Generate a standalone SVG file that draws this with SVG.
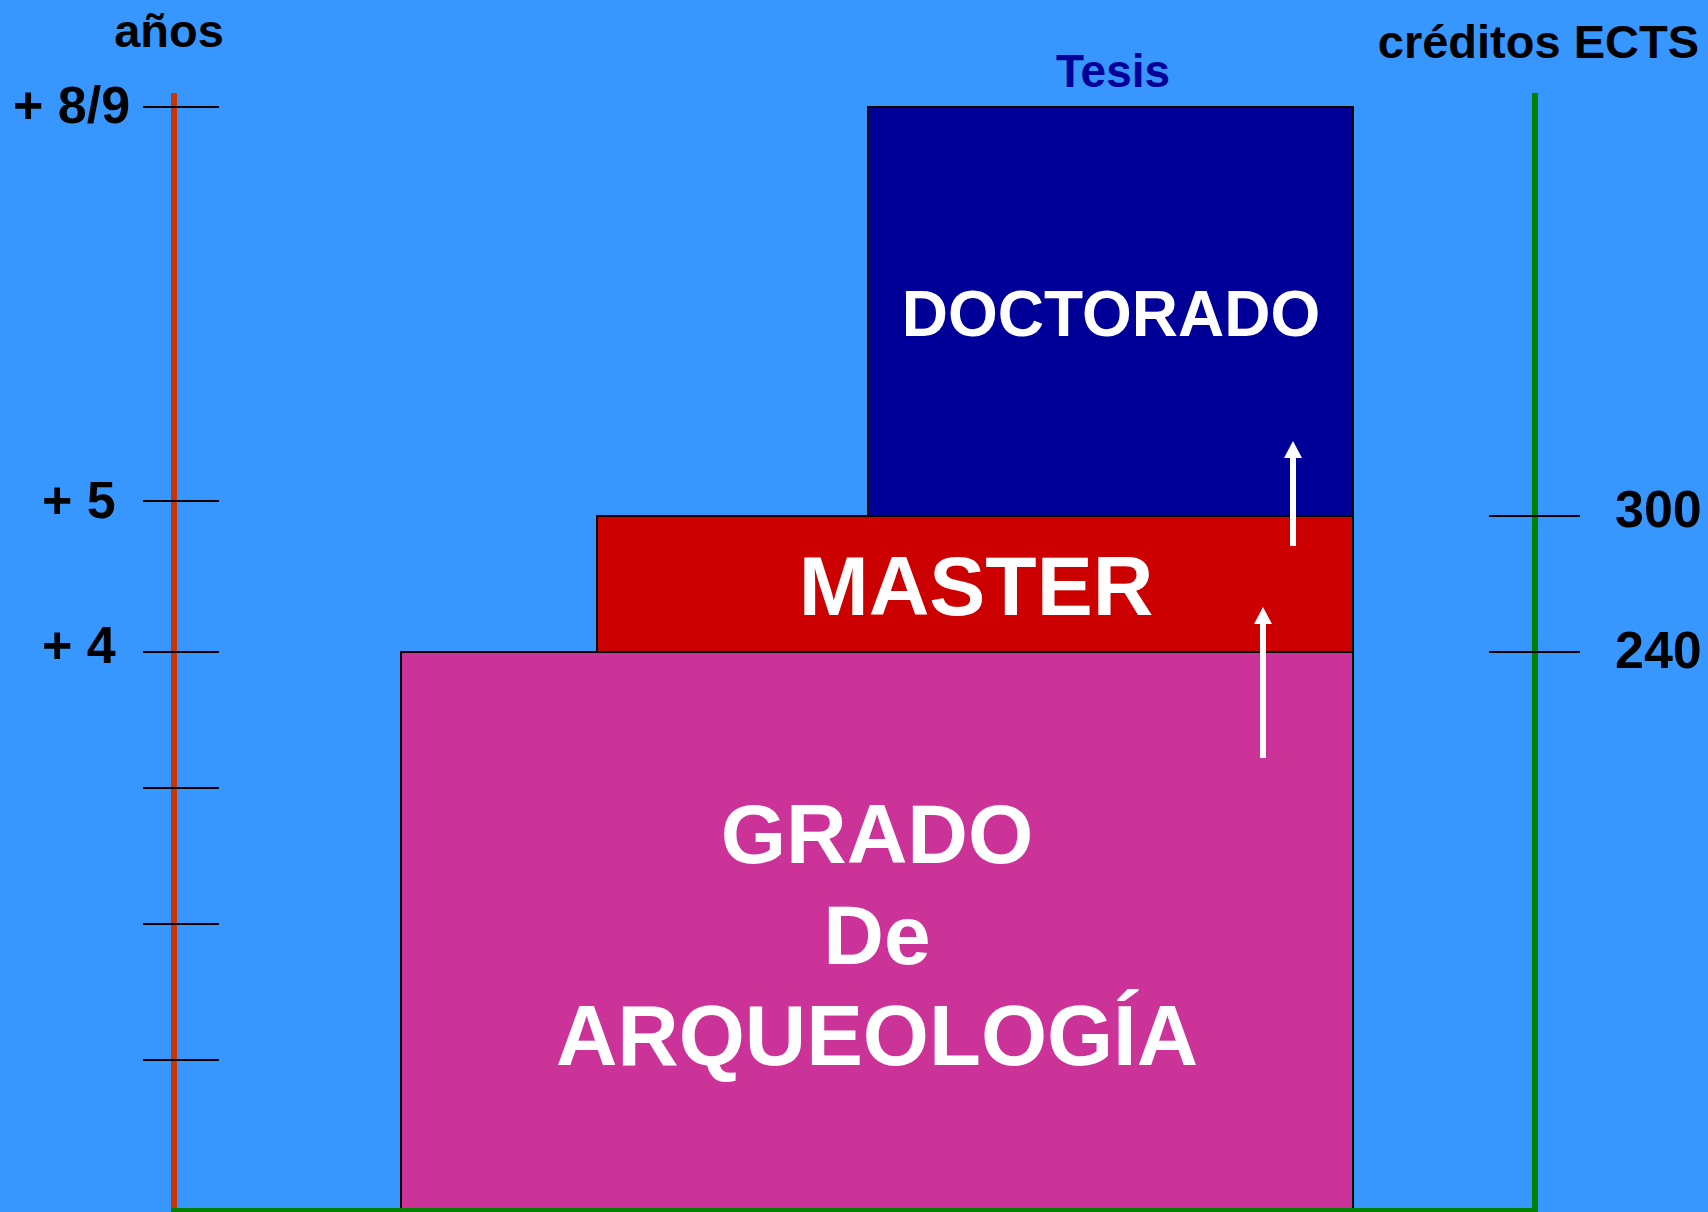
<svg xmlns="http://www.w3.org/2000/svg" width="1708" height="1212" viewBox="0 0 1708 1212">
<style>
text{font-family:"Liberation Sans",Arial,sans-serif;font-weight:bold}
.lbl{fill:#000;font-size:52px}
.hdr{fill:#000;font-size:47px}
.w{fill:#fff;text-anchor:middle}
.box{stroke:#000;stroke-width:2}
.tick{stroke:#000;stroke-width:2}
.arrow{fill:#fff}
</style>
<rect width="1708" height="1212" fill="#3797FF"/>
<g id="axis-years">
<line x1="174" y1="93" x2="174" y2="1212" stroke="#CC3300" stroke-width="6"/>
<line class="tick" x1="143" y1="107" x2="219" y2="107"/>
<line class="tick" x1="143" y1="501" x2="219" y2="501"/>
<line class="tick" x1="143" y1="652" x2="219" y2="652"/>
<line class="tick" x1="143" y1="788" x2="219" y2="788"/>
<line class="tick" x1="143" y1="924" x2="219" y2="924"/>
<line class="tick" x1="143" y1="1060" x2="219" y2="1060"/>
<text class="hdr" x="169" y="47" text-anchor="middle">años</text>
<text class="lbl" x="13" y="123">+ 8/9</text>
<text class="lbl" x="42" y="518">+ 5</text>
<text class="lbl" x="42" y="663">+ 4</text>
</g>
<g id="axis-credits">
<line x1="1535" y1="93" x2="1535" y2="1212" stroke="#008000" stroke-width="6"/>
<line class="tick" x1="1489" y1="516" x2="1580" y2="516"/>
<line class="tick" x1="1489" y1="652" x2="1580" y2="652"/>
<text class="hdr" x="1699" y="58" text-anchor="end" font-size="48">créditos ECTS</text>
<text class="lbl" x="1615" y="527">300</text>
<text class="lbl" x="1615" y="668">240</text>
</g>
<g id="grado">
<rect class="box" x="401" y="652" width="952" height="562" fill="#CC3399"/>
<text class="w" x="877" y="863" font-size="84">GRADO</text>
<text class="w" x="877" y="964" font-size="84">De</text>
<text class="w" x="877" y="1065" font-size="85">ARQUEOLOGÍA</text>
</g>
<g id="master">
<rect class="box" x="597" y="516" width="756" height="136" fill="#CC0000"/>
<text class="w" x="976" y="615" font-size="84">MASTER</text>
</g>
<g id="doctorado">
<rect class="box" x="868" y="107" width="485" height="409" fill="#000099"/>
<text class="w" x="1111" y="336" font-size="64">DOCTORADO</text>
<text x="1113" y="87" font-size="46" fill="#000099" text-anchor="middle">Tesis</text>
</g>
<g id="baseline">
<line x1="171" y1="1210" x2="1538" y2="1210" stroke="#008000" stroke-width="4"/>
</g>
<g id="connectors">
<path class="arrow" d="M1260 758 V624 H1254 L1263 607 L1272 624 H1266 V758 Z"/>
<path class="arrow" d="M1290 546 V458 H1284 L1293 441 L1302 458 H1296 V546 Z"/>
</g>
</svg>
